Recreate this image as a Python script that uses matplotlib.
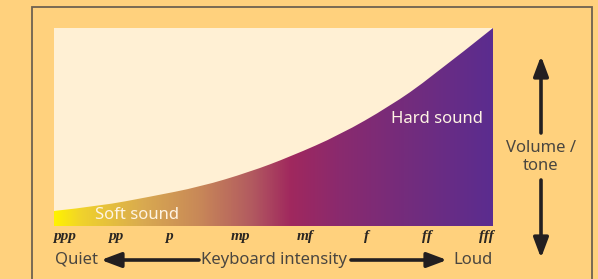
import numpy as np
import matplotlib
matplotlib.use("Agg")
import matplotlib.pyplot as plt
from matplotlib.colors import LinearSegmentedColormap
from matplotlib.path import Path
from matplotlib.patches import PathPatch

# --- data ---
dynamics = ["ppp", "pp", "p", "mp", "mf", "f", "ff", "fff"]
dyn_pos = [0.023, 0.141, 0.262, 0.424, 0.572, 0.713, 0.850, 0.986]

intensity = [0.0, 0.105, 0.219, 0.333, 0.446, 0.538, 0.651, 0.765, 0.856, 1.0]
volume = [0.076, 0.101, 0.148, 0.198, 0.273, 0.35, 0.46, 0.605, 0.745, 1.0]

grad_stops = [0.0, 0.06, 0.2, 0.33, 0.45, 0.54, 0.65, 0.8, 1.0]
grad_cols = ["#fff200", "#f0d22c", "#d9aa50", "#c88858", "#b25a60", "#a0285e",
             "#8a2a6e", "#742c7c", "#5b2d8f"]

bg = "#ffd17d"
cream = "#fff0d4"
txt = "#4a4640"
ink = "#231f20"

W, H = 598, 279
fig = plt.figure(figsize=(W / 100, H / 100), dpi=100, facecolor=bg)

# overlay in pixel coordinates for frame, arrows and captions
ov = fig.add_axes([0, 0, 1, 1], zorder=0)
ov.set_xlim(0, W)
ov.set_ylim(H, 0)
ov.axis("off")

# frame line (open at the bottom)
ov.plot([32, 32, 592, 592], [H + 5, 7, 7, H + 5], color="#6e6250", lw=1.3,
        solid_joinstyle="miter")

# main area
ax = fig.add_axes([54 / W, (H - 226) / H, 439 / W, 198 / H], zorder=2)
ax.set_facecolor(cream)
ax.set_xlim(0, 1)
ax.set_ylim(0, 1)
for s in ax.spines.values():
    s.set_visible(False)
ax.set_yticks([])

# smooth outline: quadratic bezier through the read points
pts = list(zip(intensity, volume))
verts = [(0, 0), pts[0]]
codes = [Path.MOVETO, Path.LINETO]
for i in range(1, len(pts) - 1):
    nxt = pts[i + 1] if i == len(pts) - 2 else (
        (pts[i][0] + pts[i + 1][0]) / 2, (pts[i][1] + pts[i + 1][1]) / 2)
    verts += [pts[i], nxt]
    codes += [Path.CURVE3, Path.CURVE3]
verts += [(1, 0), (0, 0)]
codes += [Path.LINETO, Path.CLOSEPOLY]
shape = PathPatch(Path(verts, codes), facecolor="none", lw=0)
ax.add_patch(shape)

cmap = LinearSegmentedColormap.from_list("vol", list(zip(grad_stops, grad_cols)))
grad = np.linspace(0, 1, 600).reshape(1, -1)
im = ax.imshow(grad, cmap=cmap, extent=[0, 1, 0, 1], aspect="auto",
               interpolation="bilinear", zorder=1)
im.set_clip_path(shape)

ax.set_xticks(dyn_pos)
ax.set_xticklabels(dynamics, family="Liberation Serif", style="italic",
                   weight="bold", fontsize=11, color="#2a2622")
ax.tick_params(axis="x", length=0, pad=3)

sans = "Noto Sans"
fs = 12
ax.text(0.093, 0.055, "Soft sound", color="#fff4e4", fontsize=fs, family=sans,
        va="center", ha="left", zorder=3)
ax.text(0.978, 0.54, "Hard sound", color="#fff4e4", fontsize=fs, family=sans,
        va="center", ha="right", zorder=3)

# bottom caption with arrows
ov.text(55, 260, "Quiet", fontsize=fs, family=sans, color=txt, va="center", ha="left")
ov.text(274, 260, "Keyboard intensity", fontsize=fs, family=sans, color=txt,
        va="center", ha="center")
ov.text(493, 260, "Loud", fontsize=fs, family=sans, color=txt, va="center", ha="right")

arr = dict(arrowstyle="-|>,head_length=1.2,head_width=0.45", color=ink, lw=2.6,
           shrinkA=0, shrinkB=0)
ov.annotate("", xy=(101, 260), xytext=(199, 260), arrowprops=arr)
ov.annotate("", xy=(447, 260), xytext=(351, 260), arrowprops=arr)

# vertical caption
ov.text(541, 157, "Volume /\ntone", fontsize=fs, family=sans, color=txt,
        va="center", ha="center", linespacing=1.1)
ov.annotate("", xy=(541, 56), xytext=(541, 133), arrowprops=arr)
ov.annotate("", xy=(541, 258), xytext=(541, 180), arrowprops=arr)

fig.savefig("out.png", dpi=100, facecolor=bg)
